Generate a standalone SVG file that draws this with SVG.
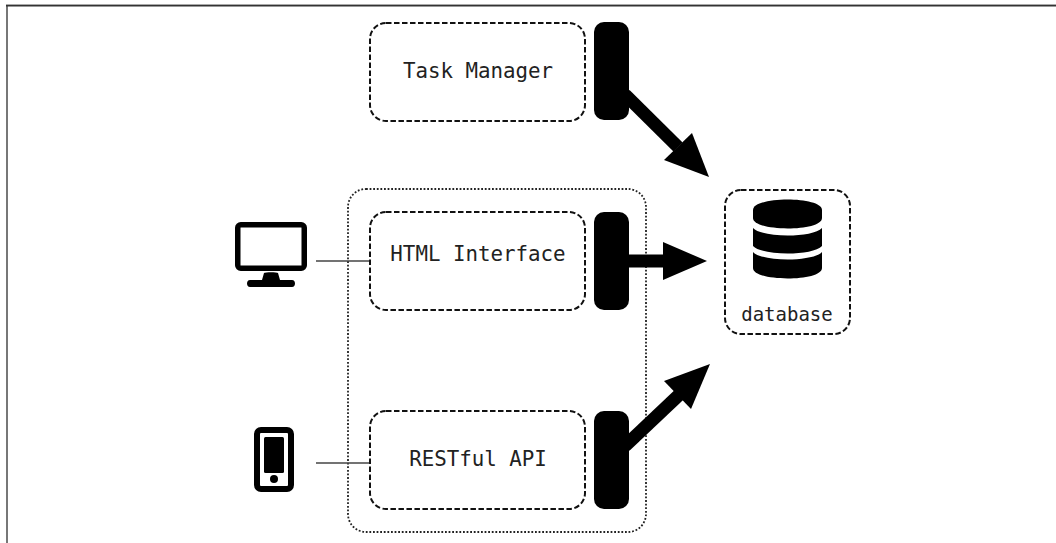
<svg xmlns="http://www.w3.org/2000/svg" width="1056" height="543" viewBox="0 0 1056 543">
<style>
.frame-left{stroke:#777;stroke-width:2;fill:none}
.frame-top{stroke:#333;stroke-width:1.500;fill:none}
.frame-top-edge{stroke:#aaa;stroke-width:1;fill:none}
.box{fill:none;stroke:#111;stroke-width:2;stroke-dasharray:5.500 2.500}
.group{fill:none;stroke:#222;stroke-width:1.800;stroke-dasharray:1.800 1.800}
.bar{fill:#000}
.line{stroke:#444;stroke-width:1.300;fill:none}
.arrow{stroke:#000;stroke-width:13;fill:none}
.head{fill:#000}
text{font-family:"DejaVu Sans Mono","Liberation Mono",monospace;font-size:20.800px;fill:#222;text-anchor:middle}
text.small{font-size:19px}
</style>
<rect width="1056" height="543" fill="#fff"/>
<path class="frame-left" d="M7 4V543"/>
<path class="frame-top-edge" d="M6 4.500H1056"/>
<path class="frame-top" d="M6 5.700H1056"/>
<rect class="group" x="348" y="189" width="298" height="343" rx="18"/>
<g id="connectors">
<path class="line" d="M316 261H370"/>
<path class="line" d="M316 463H370"/>
<path class="arrow" d="M625 94.500L678 147"/>
<polygon class="head" points="709,177 664,160 692,133"/>
<path class="arrow" d="M625 261H668"/>
<polygon class="head" points="707,261 663,242 663,280"/>
<path class="arrow" d="M625 446L680 394"/>
<polygon class="head" points="710,364 691,409 664,381"/>
</g>
<g id="task-manager"><rect class="box" x="370" y="23" width="215" height="98" rx="16"/><text x="478" y="78">Task Manager</text></g>
<rect id="task-manager-bar" class="bar" x="594" y="22" width="35" height="98" rx="10"/>
<g id="html-interface"><rect class="box" x="370" y="212" width="215" height="98" rx="16"/><text x="478" y="261">HTML Interface</text></g>
<rect id="html-interface-bar" class="bar" x="594" y="212" width="35" height="98" rx="10"/>
<g id="restful-api"><rect class="box" x="370" y="411" width="215" height="98" rx="16"/><text x="478" y="466">RESTful API</text></g>
<rect id="restful-api-bar" class="bar" x="594" y="411" width="35" height="98" rx="10"/>
<g id="database">
<rect class="box" x="725" y="190" width="125" height="144" rx="16"/>
<path class="bar" d="M753 210C753 196 822 196 822 210V218C822 232 753 232 753 218Z"/>
<path class="bar" d="M753 228C762 238 813 238 822 228V246C813 256 762 256 753 246Z"/>
<path class="bar" d="M753 252C762 262 813 262 822 252V268C822 282 753 282 753 268Z"/>
<text class="small" x="787" y="321">database</text>
</g>
<g id="desktop">
<rect x="237.750" y="224.750" width="66.500" height="43.500" rx="3" fill="none" stroke="#000" stroke-width="5.500"/>
<path class="bar" d="M264 273C265 272 277 272 278 273L280 280H292C296 280 296 287 292 287H250C246 287 246 280 250 280H262Z"/>
</g>
<g id="phone">
<rect x="257" y="430" width="34" height="59" rx="4" fill="none" stroke="#000" stroke-width="6"/>
<rect class="bar" x="264" y="437" width="20" height="36" rx="1.500"/>
<circle class="bar" cx="274" cy="479" r="4"/>
</g>
</svg>
